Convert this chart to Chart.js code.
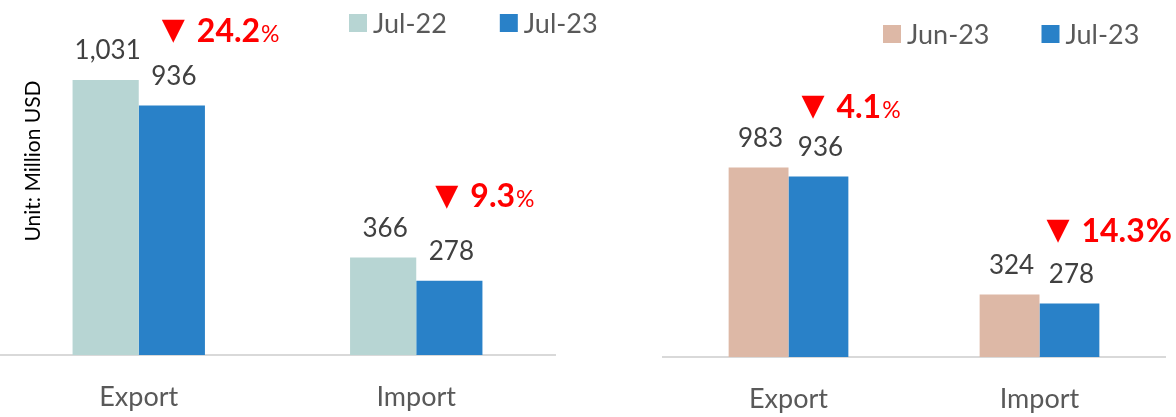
<!DOCTYPE html>
<html>
<head>
<meta charset="utf-8">
<script src="https://cdn.jsdelivr.net/npm/chart.js@4.4.0/dist/chart.umd.min.js"></script>
<style>
html, body { margin: 0; padding: 0; background: #fff; }
#wrap { position: relative; width: 1176px; height: 417px; }
#leftBox { position: absolute; left: 0; top: 0; width: 610px; height: 417px; }
#rightBox { position: absolute; left: 610px; top: 0; width: 566px; height: 417px; }
</style>
</head>
<body>
<div id="wrap">
  <div id="leftBox"><canvas id="leftChart" width="610" height="417"></canvas></div>
  <div id="rightBox"><canvas id="rightChart" width="566" height="417"></canvas></div>
</div>
<script>
// chart data
var categories = ['Export', 'Import'];

// year on year panel
var yoyLabels = ['Jul-22', 'Jul-23'];
var jul22Values = [1031, 366];
var jul23Values = [936, 278];
var yoyChange = ['24.2', '9.3'];

// month on month panel
var momLabels = ['Jun-23', 'Jul-23'];
var jun23Values = [983, 324];
var jul23MomValues = [936, 278];
var momChange = ['4.1', '14.3'];

var FONT = 'Lato, "Liberation Sans", sans-serif';
var COLOR_JUL22 = '#b7d5d3';
var COLOR_JUN23 = '#ddb8a6';
var COLOR_JUL23 = '#2981c8';

// value labels above each bar
var valueLabels = {
    id: 'valueLabels',
    afterDatasetsDraw: function(chart) {
        var ctx = chart.ctx;
        ctx.save();
        ctx.font = '26px ' + FONT;
        ctx.fillStyle = '#404040';
        ctx.textAlign = 'center';
        ctx.textBaseline = 'middle';
        chart.data.datasets.forEach(function(ds, di) {
            var meta = chart.getDatasetMeta(di);
            meta.data.forEach(function(bar, i) {
                ctx.fillText(ds.data[i].toLocaleString('en-US'), bar.x + 2, bar.y - 29);
            });
        });
        ctx.restore();
    }
};

// red "down" change notes
var changeNotes = {
    id: 'changeNotes',
    afterDraw: function(chart, args, opts) {
        if (!opts.values) return;
        var ctx = chart.ctx;
        var meta = chart.getDatasetMeta(1);
        ctx.save();
        ctx.fillStyle = '#ff0000';
        ctx.textAlign = 'left';
        ctx.textBaseline = 'middle';
        opts.values.forEach(function(v, i) {
            var bar = meta.data[i];
            var x = bar.x + opts.dx[i];
            var y = bar.y - opts.dy[i];
            ctx.font = '30px "DejaVu Sans"';
            ctx.fillText('\u25BC', x - 2, y);
            x += 33;
            ctx.font = 'bold 32px ' + FONT;
            ctx.fillText(v, x, y);
            x += ctx.measureText(v).width + 1;
            ctx.font = opts.bigPct[i] ? 'bold 32px ' + FONT : '23px ' + FONT;
            ctx.fillText('%', x, y + (opts.bigPct[i] ? 0 : 3));
        });
        ctx.restore();
    }
};

// simple square legend
var swatchLegend = {
    id: 'swatchLegend',
    afterDraw: function(chart, args, opts) {
        if (opts.x === undefined) return;
        var ctx = chart.ctx;
        var x = opts.x;
        ctx.save();
        ctx.font = '27px ' + FONT;
        ctx.textAlign = 'left';
        ctx.textBaseline = 'middle';
        chart.data.datasets.forEach(function(ds) {
            ctx.fillStyle = ds.backgroundColor;
            ctx.fillRect(x, opts.y - 9, 18, 18);
            ctx.fillStyle = '#595959';
            ctx.fillText(ds.label, x + 24, opts.y + 1);
            x += 24 + ctx.measureText(ds.label).width + opts.gap;
        });
        ctx.restore();
    }
};

// rotated unit title
var unitTitle = {
    id: 'unitTitle',
    afterDraw: function(chart, args, opts) {
        if (!opts.text) return;
        var ctx = chart.ctx;
        ctx.save();
        ctx.translate(opts.x, opts.y);
        ctx.rotate(-Math.PI / 2);
        ctx.font = '21px ' + FONT;
        ctx.fillStyle = '#000000';
        ctx.textAlign = 'center';
        ctx.textBaseline = 'middle';
        ctx.fillText(opts.text, 0, 0);
        ctx.restore();
    }
};

function makeChart(canvasId, labels, firstValues, secondValues, firstColor, cfg) {
    var ctx = document.getElementById(canvasId).getContext('2d');
    return new Chart(ctx, {
        type: 'bar',
        data: {
            labels: categories,
            datasets: [{
                label: labels[0],
                data: firstValues,
                backgroundColor: firstColor,
                borderWidth: 0
            }, {
                label: labels[1],
                data: secondValues,
                backgroundColor: COLOR_JUL23,
                borderWidth: 0
            }]
        },
        options: {
            responsive: false,
            animation: false,
            layout: { padding: cfg.padding },
            categoryPercentage: 0.477,
            barPercentage: 1,
            scales: {
                x: {
                    grid: { display: false, drawTicks: false, tickLength: 0 },
                    border: { display: true, color: '#d9d9d9', width: 2 },
                    ticks: { color: '#595959', font: { family: FONT, size: 27 }, padding: 26 },
                    afterFit: function(scale) { scale.height = cfg.axisHeight; }
                },
                y: {
                    display: false,
                    min: 0,
                    max: cfg.yMax
                }
            },
            plugins: {
                legend: { display: false },
                tooltip: { enabled: false },
                changeNotes: cfg.notes,
                swatchLegend: cfg.legend,
                unitTitle: cfg.unit || {}
            }
        },
        plugins: [valueLabels, changeNotes, swatchLegend, unitTitle]
    });
}

makeChart('leftChart', yoyLabels, jul22Values, jul23Values, COLOR_JUL22, {
    padding: { left: 0, right: 55, top: 35, bottom: 0 },
    axisHeight: 62,
    yMax: 1200,
    notes: { values: yoyChange, dx: [-8, -12], dy: [74, 84], bigPct: [false, false] },
    legend: { x: 349, y: 23, gap: 53 },
    unit: { text: 'Unit: Million USD', x: 33, y: 161 }
});

makeChart('rightChart', momLabels, jun23Values, jul23MomValues, COLOR_JUN23, {
    padding: { left: 53, right: 11, top: 87, bottom: 0 },
    axisHeight: 60,
    yMax: 1400,
    notes: { values: momChange, dx: [-15, -21], dy: [69, 72], bigPct: [false, true] },
    legend: { x: 273, y: 34, gap: 52 }
});
</script>
</body>
</html>
